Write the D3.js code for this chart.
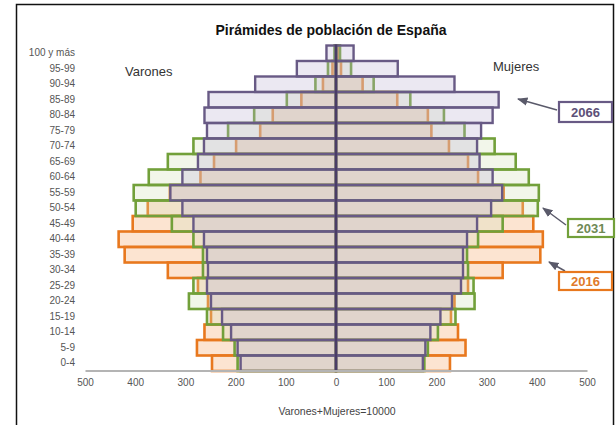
<!DOCTYPE html>
<html>
<head>
<meta charset="utf-8">
<script src="https://cdn.jsdelivr.net/npm/d3@7"></script>
<style>
    body { margin: 0; background: #fff; }
    svg { font-family: "Liberation Sans", Arial, sans-serif; }
</style>
</head>
<body>
<svg id="chart" width="616" height="425"></svg>
<script>
'use strict';

// grupos de edad, de arriba abajo
var ages = ['100 y más', '95-99', '90-94', '85-89', '80-84', '75-79', '70-74', '65-69', '60-64', '55-59',
    '50-54', '45-49', '40-44', '35-39', '30-34', '25-29', '20-24', '15-19', '10-14', '5-9', '0-4'];

// por 10000 habitantes
var varones2016 = [1, 7, 26, 69, 126, 151, 199, 243, 270, 331, 375, 405, 433, 421, 335, 275, 255, 249, 262, 277, 247];
var varones2031 = [3, 16, 41, 98, 163, 215, 284, 335, 373, 403, 399, 327, 284, 265, 265, 284, 293, 257, 225, 202, 196];
var varones2066 = [19, 78, 161, 254, 262, 257, 263, 275, 306, 330, 306, 284, 263, 257, 255, 257, 249, 227, 209, 196, 190];

var mujeres2016 = [4, 10, 53, 122, 183, 190, 225, 263, 283, 334, 372, 393, 412, 407, 332, 263, 236, 229, 243, 258, 227];
var mujeres2031 = [8, 30, 75, 148, 215, 256, 316, 358, 384, 404, 402, 332, 283, 261, 263, 274, 276, 238, 203, 183, 176];
var mujeres2066 = [35, 123, 236, 324, 312, 289, 281, 286, 312, 331, 309, 281, 261, 253, 253, 249, 231, 208, 188, 178, 173];

var years = ['2016', '2031', '2066'];
var xTicks = [-500, -400, -300, -200, -100, 0, 100, 200, 300, 400, 500];

var series = [
    { year: years[0], m: varones2016, f: mujeres2016, stroke: '#e8781e', fill: '#f9c9a3', op: 0.5, sw: 2.6, text: '#e07a2a' },
    { year: years[1], m: varones2031, f: mujeres2031, stroke: '#72a03a', fill: '#cfe0b2', op: 0.28, sw: 2.6, text: '#6f8a55' },
    { year: years[2], m: varones2066, f: mujeres2066, stroke: '#685a85', fill: '#bdb2d4', op: 0.3, sw: 2.4, text: '#5d5078' }
];

var svg = d3.select('#chart');

// marco
svg.append('rect')
    .attr('x', 16.5).attr('y', 4.5).attr('width', 597).attr('height', 440)
    .attr('fill', 'none').attr('stroke', '#111').attr('stroke-width', 1.5);

var x = d3.scaleLinear().domain([-500, 500]).range([85, 587]);
var y = d3.scaleBand().domain(ages).range([45.5, 371]).padding(0);

// barras
series.forEach(function (s) {
    var g = svg.append('g').attr('class', 'y' + s.year);
    var rows = ages.map(function (a, i) { return { age: a, m: s.m[i], f: s.f[i] }; });

    g.selectAll('rect.m').data(rows).enter().append('rect')
        .attr('class', 'm')
        .attr('x', function (d) { return x(-d.m); })
        .attr('y', function (d) { return y(d.age); })
        .attr('width', function (d) { return x(0) - x(-d.m); })
        .attr('height', y.bandwidth())
        .attr('fill', s.fill).attr('fill-opacity', s.op)
        .attr('stroke', s.stroke).attr('stroke-width', s.sw);

    g.selectAll('rect.f').data(rows).enter().append('rect')
        .attr('class', 'f')
        .attr('x', x(0))
        .attr('y', function (d) { return y(d.age); })
        .attr('width', function (d) { return x(d.f) - x(0); })
        .attr('height', y.bandwidth())
        .attr('fill', s.fill).attr('fill-opacity', s.op)
        .attr('stroke', s.stroke).attr('stroke-width', s.sw);
});

// eje central
svg.append('line')
    .attr('x1', x(0)).attr('x2', x(0))
    .attr('y1', y.range()[0] - 1).attr('y2', y.range()[1])
    .attr('stroke', '#4a3d66').attr('stroke-width', 2.5);

// eje x
var xAxis = svg.append('g')
    .attr('transform', 'translate(0,' + (y.range()[1] - 0.5) + ')')
    .call(d3.axisBottom(x).tickValues(xTicks).tickSize(0).tickPadding(8)
        .tickFormat(function (d) { return Math.abs(d); }));
xAxis.select('.domain').attr('stroke', '#b4b4b4').attr('stroke-width', 2);
xAxis.selectAll('text').attr('fill', '#555').style('font-size', '10px');

// eje y (edades)
var yAxis = svg.append('g')
    .attr('transform', 'translate(75,0)')
    .call(d3.axisLeft(y).tickSize(0).tickPadding(0));
yAxis.select('.domain').remove();
yAxis.selectAll('text').attr('fill', '#555').style('font-size', '10px');

// textos
svg.append('text').attr('x', 331).attr('y', 35).attr('text-anchor', 'middle')
    .style('font-size', '14px').style('font-weight', 'bold').attr('fill', '#111')
    .text('Pirámides de población de España');
svg.append('text').attr('x', 125).attr('y', 76).style('font-size', '13px').attr('fill', '#333').text('Varones');
svg.append('text').attr('x', 493).attr('y', 71).style('font-size', '13px').attr('fill', '#333').text('Mujeres');
svg.append('text').attr('x', 337).attr('y', 415).attr('text-anchor', 'middle')
    .style('font-size', '10.5px').attr('fill', '#444').text('Varones+Mujeres=10000');

// leyenda con flechas
svg.append('defs').append('marker')
    .attr('id', 'arrow').attr('viewBox', '0 0 10 10').attr('refX', 9).attr('refY', 5)
    .attr('markerWidth', 7).attr('markerHeight', 7).attr('orient', 'auto')
    .append('path').attr('d', 'M0,1 L10,5 L0,9 Z').attr('fill', '#5a5a6a');

var legendPos = {
    '2066': { box: [559, 102, 53, 20], from: [557, 110], to: [518, 99] },
    '2031': { box: [568, 219, 46, 18], from: [566, 225], to: [543, 208] },
    '2016': { box: [559, 272, 53, 18], from: [565, 271], to: [549, 262] }
};

series.forEach(function (s) {
    var p = legendPos[s.year];
    svg.append('line')
        .attr('x1', p.from[0]).attr('y1', p.from[1]).attr('x2', p.to[0]).attr('y2', p.to[1])
        .attr('stroke', '#5a5a6a').attr('stroke-width', 1.5).attr('marker-end', 'url(#arrow)');
    svg.append('rect')
        .attr('x', p.box[0]).attr('y', p.box[1]).attr('width', p.box[2]).attr('height', p.box[3])
        .attr('fill', '#fff').attr('stroke', s.stroke).attr('stroke-width', 2.2);
    svg.append('text')
        .attr('x', p.box[0] + p.box[2] / 2).attr('y', p.box[1] + p.box[3] / 2 + 4.5)
        .attr('text-anchor', 'middle').style('font-size', '13px').style('font-weight', 'bold')
        .attr('fill', s.text).text(s.year);
});
</script>
</body>
</html>
